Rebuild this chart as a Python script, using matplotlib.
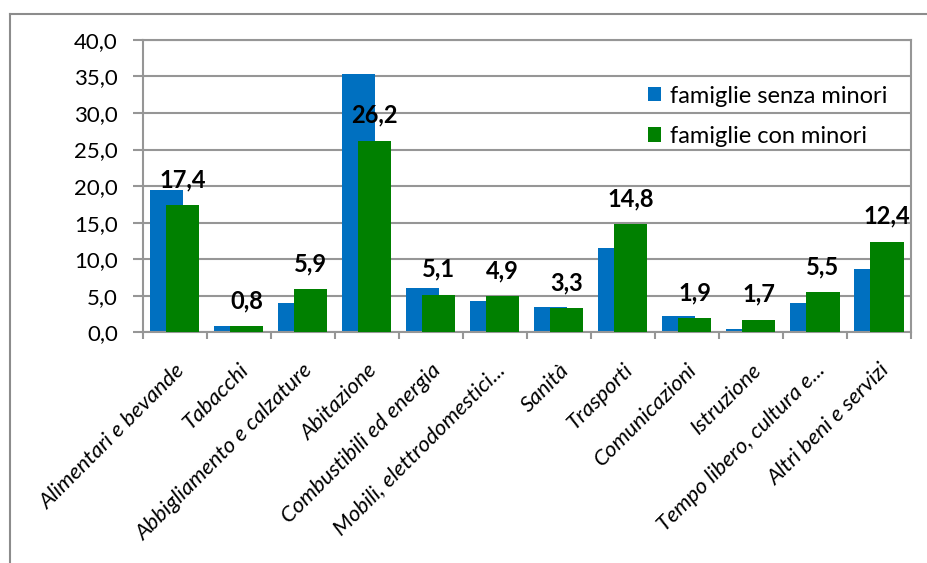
import matplotlib.pyplot as plt
import numpy as np
from matplotlib.lines import Line2D

plt.rcParams['font.family'] = ['Lato', 'DejaVu Sans']

categories = ['Alimentari e bevande', 'Tabacchi', 'Abbigliamento e calzature',
              'Abitazione', 'Combustibili ed energia', 'Mobili, elettrodomestici...',
              'Sanità', 'Trasporti', 'Comunicazioni', 'Istruzione',
              'Tempo libero, cultura e...', 'Altri beni e servizi']
senza_minori = [19.4, 0.9, 4.0, 35.4, 6.1, 4.3, 3.5, 11.5, 2.2, 0.5, 4.0, 8.6]
con_minori = [17.4, 0.8, 5.9, 26.2, 5.1, 4.9, 3.3, 14.8, 1.9, 1.7, 5.5, 12.4]

blue = '#0070C0'
green = '#008000'
grey = '#969696'

fig = plt.figure(figsize=(9.27, 5.63), dpi=100)
ax = fig.add_axes([0.154, 0.410, 0.829, 0.519])

x = np.arange(len(categories))
w = 0.52
ax.bar(x - 0.13, senza_minori, w, color=blue, label='famiglie senza minori', zorder=2)
ax.bar(x + 0.12, con_minori, w, color=green, label='famiglie con minori', zorder=3)

for xi, v in zip(x, con_minori):
    ax.annotate(f'{v:.1f}'.replace('.', ','), (xi + 0.12, v), xytext=(0, 13),
                textcoords='offset points', ha='center', va='baseline',
                fontsize=17, fontweight='bold', zorder=4)

ax.set_xlim(-0.5, len(categories) - 0.5)
ax.set_ylim(0, 40)
ax.set_yticks(np.arange(0, 41, 5))
ax.set_yticklabels([f'{t:.1f}'.replace('.', ',') for t in np.arange(0, 41, 5)], fontsize=16)
ax.yaxis.grid(True, color=grey, linewidth=1.5, zorder=0)
ax.set_axisbelow(True)

ax.set_xticks(x)
ax.set_xticklabels(categories, rotation=45, ha='right', rotation_mode='anchor',
                   fontsize=16, style='italic')
ax.set_xticks(np.arange(-0.5, len(categories)), minor=True)
ax.tick_params(axis='x', which='major', length=0, pad=20)
ax.tick_params(axis='x', which='minor', length=5, color=grey, width=1.5)
ax.tick_params(axis='y', length=7, color=grey, width=1.5, pad=11)

for s in ax.spines.values():
    s.set_color(grey)
    s.set_linewidth(1.5)

ax.legend(loc='upper left', bbox_to_anchor=(0.699, 0.848), bbox_transform=fig.transFigure,
          frameon=False, fontsize=17, borderpad=0, borderaxespad=0,
          handlelength=0.55, handleheight=0.55, labelspacing=0.82, handletextpad=0.4)

# chart area border (left and top edges only visible)
fx, fy = 9.5 / 927, 1 - 13.5 / 563
fig.add_artist(Line2D([fx, fx], [0, fy], transform=fig.transFigure, color='#8c8c8c', lw=1.5))
fig.add_artist(Line2D([fx, 1], [fy, fy], transform=fig.transFigure, color='#8c8c8c', lw=1.5))

fig.savefig('out.png', dpi=100)
